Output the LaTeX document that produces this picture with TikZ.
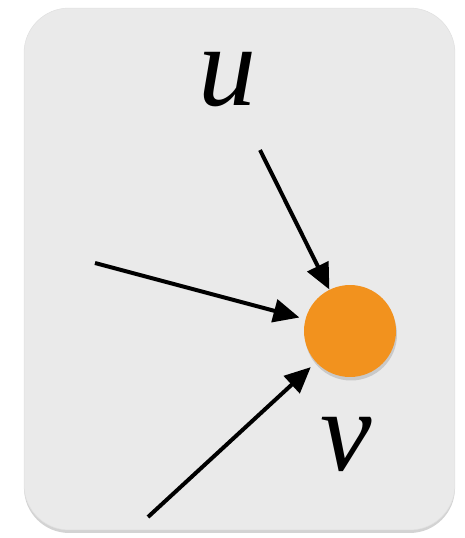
\documentclass[tikz,border=0pt]{standalone}
\usepackage{fontspec}
\setmainfont{Liberation Serif}
\usetikzlibrary{arrows.meta, shadows, positioning}
\definecolor{panel}{RGB}{234,234,234}
\definecolor{vertex}{RGB}{242,146,30}

\begin{document}
\begin{tikzpicture}[
          x=0.02cm, y=-0.02cm,
          card/.style={rectangle, rounded corners=0.9cm, fill=panel,
                       draw=black!12, line width=0.3pt,
                       drop shadow={shadow xshift=0pt, shadow yshift=-0.06cm, opacity=0.35}},
          dot/.style={circle, fill=vertex, minimum size=1.84cm, inner sep=0pt,
                      drop shadow={shadow xshift=0.02cm, shadow yshift=-0.07cm, opacity=0.3}},
          lbl/.style={font=\fontsize{66}{66}\selectfont\itshape, inner sep=0pt},
          arr/.style={-{Triangle[length=0.52cm, width=0.46cm]}, line width=0.08cm}
        ]
        \useasboundingbox (0,0) rectangle (465,538);
        \node[card, minimum width=8.62cm, minimum height=10.44cm] (box) at (239.5,269) {};
        \node[dot] (v) at (350,331) {};
        \node[lbl] (ulabel) at (227,80) {u};
        \node[lbl] (vlabel) at (346,444) {v};
        \coordinate (top) at (260,150);
        \coordinate (left) at (95,263);
        \coordinate (low) at (148,517);
        \draw[arr] (top) -- (v);
        \draw[arr, shorten >=0.12cm] (left) -- (v);
        \draw[arr, shorten >=0.14cm] (low) -- (v);
      \end{tikzpicture}
\end{document}
